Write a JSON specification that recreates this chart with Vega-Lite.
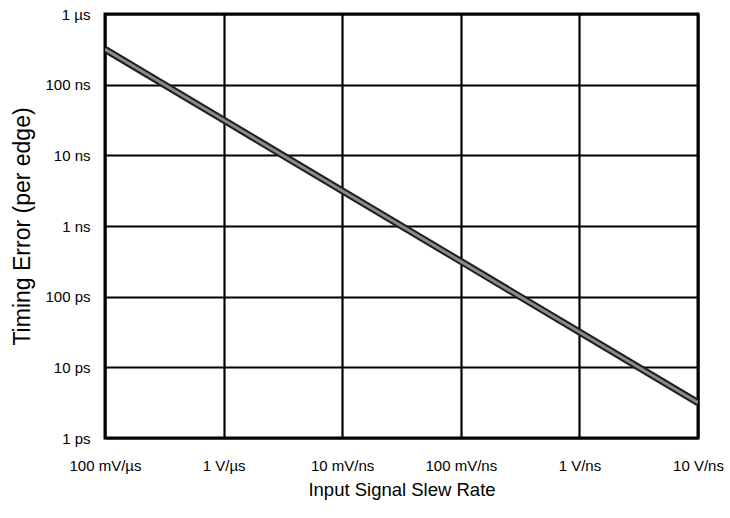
{
  "$schema": "https://vega.github.io/schema/vega-lite/v6.json",
  "autosize": "none",
  "width": 593,
  "height": 424,
  "padding": {"left": 105, "top": 14, "right": 32, "bottom": 80},
  "background": "white",
  "config": {
    "font": "Liberation Sans",
    "view": {"stroke": "black", "strokeWidth": 3},
    "axis": {
      "domain": false,
      "ticks": false,
      "grid": true,
      "gridColor": "black",
      "gridWidth": 2.2,
      "gridOpacity": 1,
      "labelColor": "black",
      "titleColor": "black",
      "labelFont": "Liberation Sans",
      "titleFont": "Liberation Sans",
      "titleFontWeight": "normal"
    }
  },
  "data": {
    "values": [
      {"slew": 1e5, "error": 3.16e-7},
      {"slew": 1e6, "error": 3.16e-8},
      {"slew": 1e7, "error": 3.16e-9},
      {"slew": 1e8, "error": 3.16e-10},
      {"slew": 1e9, "error": 3.16e-11},
      {"slew": 1e10, "error": 3.16e-12}
    ]
  },
  "encoding": {
    "x": {
      "field": "slew",
      "type": "quantitative",
      "scale": {"type": "log", "domain": [1e5, 1e10], "nice": false},
      "axis": {
        "values": [1e5, 1e6, 1e7, 1e8, 1e9, 1e10],
        "labelExpr": "['100 mV/µs', '1 V/µs', '10 mV/ns', '100 mV/ns', '1 V/ns', '10 V/ns'][round(log(datum.value) / LN10) - 5]",
        "labelFontSize": 15,
        "labelPadding": 20,
        "labelFlush": false,
        "labelOverlap": false,
        "title": "Input Signal Slew Rate",
        "titleFontSize": 18.5,
        "titleBaseline": "top",
        "titleY": 42
      }
    },
    "y": {
      "field": "error",
      "type": "quantitative",
      "scale": {"type": "log", "domain": [1e-12, 1e-6], "nice": false},
      "axis": {
        "values": [1e-12, 1e-11, 1e-10, 1e-9, 1e-8, 1e-7, 1e-6],
        "labelExpr": "['1 ps', '10 ps', '100 ps', '1 ns', '10 ns', '100 ns', '1 µs'][round(log(datum.value) / LN10) + 12]",
        "labelFontSize": 15,
        "labelPadding": 15,
        "labelFlush": false,
        "labelOverlap": false,
        "title": "Timing Error (per edge)",
        "titleFontSize": 23,
        "titleAngle": -90,
        "titleAlign": "center",
        "titleBaseline": "middle",
        "titleX": -83,
        "titleY": 212
      }
    }
  },
  "layer": [
    {"mark": {"type": "line", "color": "#1e1e1e", "strokeWidth": 7, "clip": true}},
    {"mark": {"type": "line", "color": "#8a8a8a", "strokeWidth": 3, "clip": true}}
  ]
}
